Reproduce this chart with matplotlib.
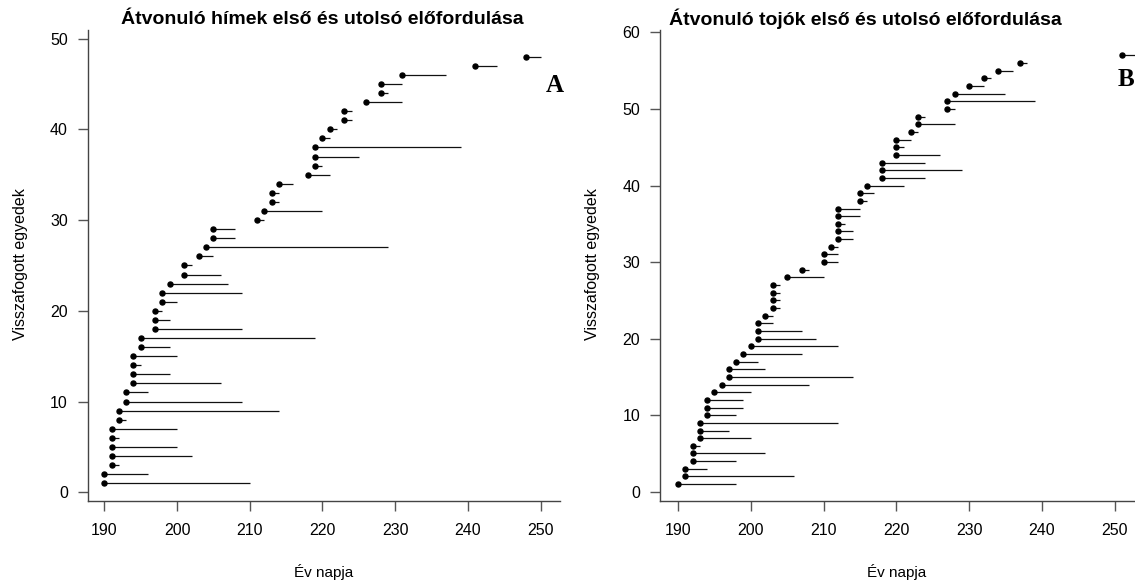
import numpy as np
import matplotlib
matplotlib.use('Agg')
import matplotlib.pyplot as plt

plt.rcParams['font.family'] = ['Liberation Sans', 'DejaVu Sans']

# Males: first and last day of observation (day of year)
male_first = [190, 190, 191, 191, 191, 191, 191, 192, 192, 193, 193, 194, 194, 194, 194, 195,
              195, 197, 197, 197, 198, 198, 199, 201, 201, 203, 204, 205, 205, 211, 212, 213,
              213, 214, 218, 219, 219, 219, 220, 221, 223, 223, 226, 228, 228, 231, 241, 248]
male_last = [210, 196, 192, 202, 200, 192, 200, 193, 214, 209, 196, 206, 199, 195, 200, 199,
             219, 209, 199, 198, 200, 209, 207, 206, 202, 205, 229, 208, 208, 212, 220, 214,
             214, 216, 221, 220, 225, 239, 221, 222, 224, 224, 231, 229, 231, 237, 244, 250]

# Females
female_first = [190, 191, 191, 192, 192, 192, 193, 193, 193, 194, 194, 194, 195, 196, 197, 197,
                198, 199, 200, 201, 201, 201, 202, 203, 203, 203, 203, 205, 207, 210, 210, 211,
                212, 212, 212, 212, 212, 215, 215, 216, 218, 218, 218, 220, 220, 220, 222, 223,
                223, 227, 227, 228, 230, 232, 234, 237, 251]
female_last = [198, 206, 194, 198, 202, 193, 200, 197, 212, 198, 199, 199, 200, 208, 214, 202,
               201, 207, 212, 209, 207, 203, 203, 204, 204, 204, 204, 210, 208, 212, 212, 212,
               214, 214, 213, 215, 215, 216, 217, 221, 224, 229, 224, 226, 221, 222, 223, 228,
               224, 228, 239, 235, 232, 233, 236, 238, 253]

x_ticks = [190, 200, 210, 220, 230, 240, 250]

W, H = 1135, 583
fig = plt.figure(figsize=(W / 100, H / 100), dpi=100)


def make_axes(left, right, top, bottom, xlim, ylim, yticks):
    ax = fig.add_axes([left / W, 1 - bottom / H, (right - left) / W, (bottom - top) / H])
    ax.set_xlim(*xlim)
    ax.set_ylim(*ylim)
    ax.set_xticks(x_ticks)
    ax.set_yticks(yticks)
    for s in ['top', 'right']:
        ax.spines[s].set_visible(False)
    for s in ['left', 'bottom']:
        ax.spines[s].set_color('#444444')
        ax.spines[s].set_linewidth(1.0)
    ax.tick_params(direction='out', length=7.5, width=1.0, color='#555555',
                   labelsize=11.5, labelcolor='black')
    ax.tick_params(axis='x', pad=8)
    ax.tick_params(axis='y', pad=7)
    return ax


def draw(ax, first, last):
    rows = np.arange(1, len(first) + 1)
    ax.hlines(rows, first, last, colors='#111111', linewidth=0.9)
    ax.plot(first, rows, 'o', color='black', markersize=3.6, clip_on=False)


# A: males
ax1 = make_axes(88, 559.5, 29.5, 501, (187.76, 252.6), (-0.96, 51.0), [0, 10, 20, 30, 40, 50])
draw(ax1, male_first, male_last)
fig.text(322 / W, 1 - 19 / H, 'Átvonuló hímek első és utolsó előfordulása',
         ha='center', va='center', fontsize=14, fontweight='bold')
fig.text(554.5 / W, 1 - 85 / H, 'A', ha='center', va='center', fontsize=18,
         fontweight='bold', family='Liberation Serif')
fig.text(324 / W, 1 - 572 / H, 'Év napja', ha='center', va='center', fontsize=11)
fig.text(20 / W, 1 - 264 / H, 'Visszafogott egyedek', ha='center', va='center',
         fontsize=11.5, rotation=90)

# B: females
ax2 = make_axes(660.3, 1135, 29.5, 501, (187.57, 252.8), (-1.21, 60.39),
                [0, 10, 20, 30, 40, 50, 60])
draw(ax2, female_first, female_last)
fig.text(865 / W, 1 - 19 / H, 'Átvonuló tojók első és utolsó előfordulása',
         ha='center', va='center', fontsize=14, fontweight='bold')
fig.text(1125.5 / W, 1 - 79 / H, 'B', ha='center', va='center', fontsize=18,
         fontweight='bold', family='Liberation Serif')
fig.text(897 / W, 1 - 572 / H, 'Év napja', ha='center', va='center', fontsize=11)
fig.text(592 / W, 1 - 264 / H, 'Visszafogott egyedek', ha='center', va='center',
         fontsize=11.5, rotation=90)

fig.savefig('out.png', dpi=100)
